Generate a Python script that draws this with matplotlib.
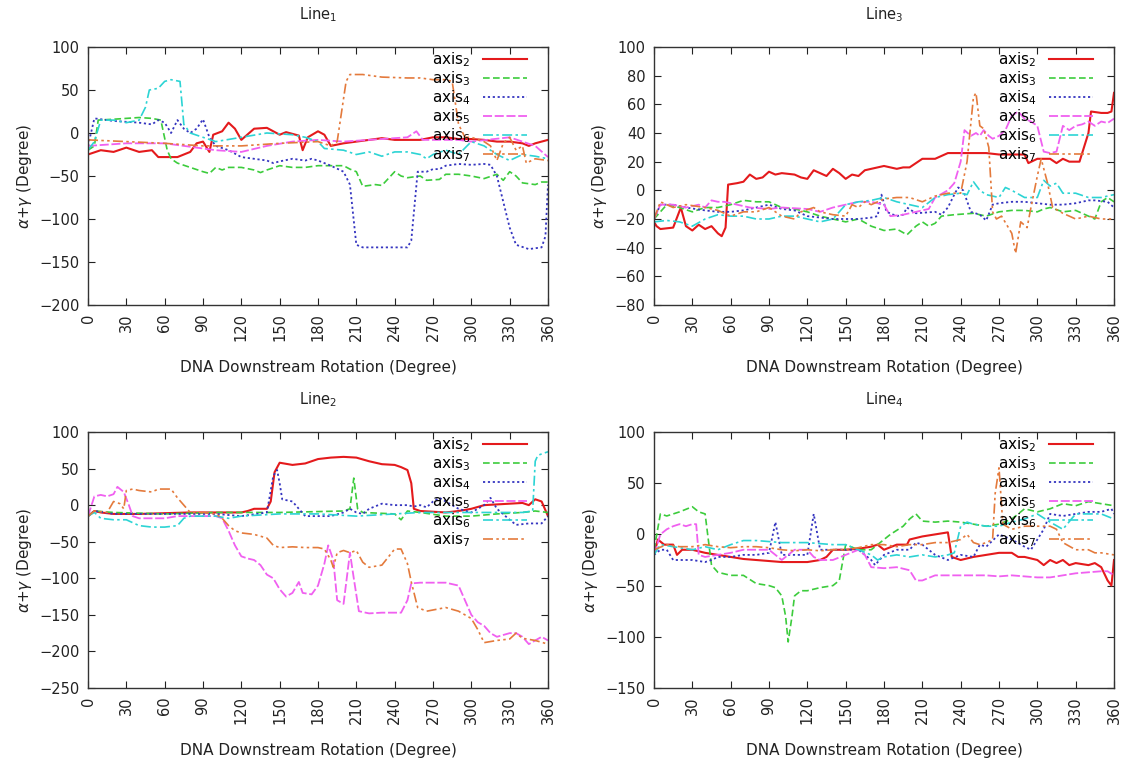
import numpy as np
import matplotlib
matplotlib.use("Agg")
import matplotlib.pyplot as plt

# ---- data: (rotation in degree, alpha+gamma in degree) ----

# Line 1
l1_axis2 = [(0, -25), (10, -20), (20, -22), (30, -17), (40, -22), (50, -20), (55, -28), (70, -28),
            (80, -22), (85, -12), (90, -10), (95, -22), (98, -2), (105, 2), (110, 12), (115, 5),
            (120, -8), (130, 5), (140, 6), (145, 2), (150, -2), (155, 1), (165, -3), (168, -20),
            (172, -5), (180, 2), (185, -2), (190, -15), (200, -12), (210, -10), (220, -8), (230, -6),
            (240, -8), (250, -8), (260, -8), (270, -5), (280, -5), (290, -7), (300, -7), (310, -8),
            (320, -10), (330, -10), (340, -12), (345, -15), (350, -12), (360, -8)]
l1_axis3 = [(0, -20), (5, -15), (8, 15), (20, 16), (30, 17), (40, 18), (50, 17), (57, 15), (62, -20),
            (65, -30), (70, -35), (80, -40), (90, -45), (95, -47), (100, -40), (105, -43), (110, -40),
            (120, -40), (130, -43), (135, -46), (140, -43), (150, -38), (160, -40), (170, -40),
            (180, -38), (190, -38), (200, -38), (205, -42), (210, -45), (215, -62), (225, -60),
            (230, -61), (235, -53), (240, -45), (245, -50), (250, -52), (260, -50), (265, -55),
            (275, -54), (280, -48), (290, -48), (300, -50), (310, -53), (320, -48), (325, -55),
            (330, -45), (335, -50), (340, -58), (350, -60), (355, -57), (360, -57)]
l1_axis4 = [(0, -15), (5, 17), (10, 16), (20, 14), (30, 13), (40, 12), (50, 10), (55, 15), (60, 12),
            (65, 0), (70, 15), (75, 5), (80, 0), (85, 5), (90, 16), (95, -5), (100, -15), (110, -20),
            (120, -28), (130, -30), (140, -32), (145, -35), (150, -33), (160, -30), (170, -32),
            (175, -30), (180, -32), (190, -38), (200, -45), (205, -60), (210, -130), (215, -133),
            (230, -133), (250, -133), (253, -125), (258, -45), (265, -45), (270, -42), (275, -42),
            (280, -38), (290, -36), (300, -37), (310, -36), (315, -37), (320, -50), (325, -80),
            (330, -110), (335, -130), (345, -135), (355, -133), (358, -120), (360, -60)]
l1_axis5 = [(0, -15), (30, -12), (60, -12), (90, -18), (100, -20), (120, -22), (140, -15), (160, -10),
            (180, -8), (200, -10), (250, -5), (257, 2), (262, -8), (290, -8), (300, -10), (330, -5),
            (340, -10), (350, -15), (360, -28)]
l1_axis6 = [(0, -20), (5, -10), (10, 15), (20, 15), (30, 12), (40, 15), (45, 30), (48, 50), (55, 52),
            (60, 60), (65, 62), (72, 60), (75, 10), (80, 0), (90, -5), (100, -10), (120, -5), (140, 0),
            (160, -2), (170, -5), (180, -10), (185, -18), (200, -20), (210, -25), (220, -22),
            (230, -27), (240, -22), (250, -22), (260, -25), (265, -30), (270, -25), (280, -20),
            (290, -25), (300, -10), (310, -15), (320, -25), (330, -32), (340, -25), (350, -27),
            (360, -30)]
l1_axis7 = [(0, -8), (30, -10), (60, -12), (90, -15), (120, -15), (150, -12), (180, -10), (190, -15),
            (195, -10), (198, 20), (202, 60), (205, 68), (215, 68), (230, 65), (250, 64), (260, 64),
            (270, 62), (280, 62), (285, 60), (290, 10), (295, -5), (300, -5), (310, -10), (315, -15),
            (320, -32), (325, -12), (330, -5), (335, -20), (340, -15), (343, -35), (350, -30),
            (360, -32)]

# Line 3
l3_axis2 = [(0, -22), (2, -25), (5, -27), (15, -26), (21, -12), (25, -25), (30, -28), (35, -24),
            (40, -27), (45, -25), (50, -30), (53, -32), (56, -26), (58, 4), (65, 5), (70, 6), (75, 11),
            (80, 8), (85, 9), (90, 13), (95, 11), (100, 12), (110, 11), (115, 9), (120, 8), (125, 14),
            (130, 12), (135, 10), (140, 15), (145, 12), (150, 8), (155, 11), (160, 10), (165, 14),
            (170, 15), (180, 17), (190, 15), (195, 16), (200, 16), (210, 22), (220, 22), (230, 26),
            (240, 26), (250, 26), (260, 26), (270, 25), (280, 25), (290, 25), (293, 19), (300, 22),
            (310, 22), (315, 19), (320, 22), (325, 20), (333, 20), (340, 40), (342, 55), (350, 54),
            (355, 54), (358, 55), (360, 68)]
l3_axis3 = [(0, -20), (10, -10), (20, -12), (30, -15), (40, -12), (50, -12), (60, -10), (70, -7),
            (80, -8), (90, -8), (100, -12), (110, -13), (120, -15), (130, -18), (140, -20), (150, -22),
            (160, -20), (170, -25), (180, -28), (190, -27), (198, -31), (205, -25), (210, -22),
            (215, -25), (220, -23), (225, -18), (235, -17), (250, -16), (260, -18), (270, -15),
            (280, -14), (290, -14), (300, -15), (305, -13), (310, -12), (320, -15), (330, -14),
            (340, -18), (345, -20), (350, -8), (355, -5), (360, -8)]
l3_axis4 = [(0, -20), (5, -10), (15, -10), (25, -12), (40, -14), (50, -15), (60, -15), (70, -14),
            (80, -12), (90, -10), (100, -13), (110, -14), (120, -18), (140, -20), (150, -20),
            (160, -20), (170, -19), (175, -18), (178, -3), (182, -15), (190, -18), (195, -17),
            (198, -12), (205, -16), (220, -15), (225, -17), (230, -12), (235, -3), (238, 2), (242, 0),
            (248, -15), (255, -17), (260, -21), (265, -10), (270, -9), (280, -8), (290, -8), (300, -9),
            (310, -10), (320, -10), (330, -9), (340, -7), (345, -7), (355, -8), (360, -12)]
l3_axis5 = [(0, -20), (5, -10), (15, -10), (25, -12), (35, -10), (40, -12), (45, -7), (50, -8),
            (55, -8), (65, -10), (75, -12), (90, -13), (100, -12), (120, -13), (130, -15), (140, -12),
            (150, -10), (160, -8), (170, -8), (180, -10), (185, -18), (195, -17), (205, -15),
            (215, -13), (220, -5), (230, 0), (235, 5), (240, 20), (243, 42), (248, 38), (252, 40),
            (255, 38), (258, 42), (262, 38), (265, 36), (270, 38), (275, 42), (280, 52), (285, 55),
            (290, 50), (295, 48), (300, 45), (305, 27), (310, 26), (315, 27), (320, 45), (325, 42),
            (330, 45), (335, 46), (340, 48), (345, 45), (350, 48), (355, 47), (360, 50)]
l3_axis6 = [(0, -22), (10, -21), (20, -22), (30, -25), (40, -20), (50, -17), (60, -18), (70, -18),
            (80, -20), (90, -20), (100, -18), (110, -18), (120, -20), (130, -22), (140, -20),
            (150, -10), (160, -8), (170, -7), (180, -5), (190, -8), (200, -10), (210, -12), (220, -5),
            (230, -3), (240, -2), (245, -3), (250, 6), (255, 0), (260, -3), (270, -5), (275, 2),
            (280, 0), (290, -5), (300, -5), (305, 7), (310, 3), (315, 5), (320, -2), (330, -2),
            (340, -5), (350, -5), (360, -3)]
l3_axis7 = [(0, -20), (5, -8), (15, -12), (25, -10), (40, -12), (50, -14), (60, -18), (70, -15),
            (80, -15), (90, -12), (100, -18), (110, -20), (115, -15), (125, -12), (130, -15),
            (140, -17), (150, -18), (155, -10), (160, -12), (165, -8), (170, -10), (180, -6),
            (190, -5), (200, -5), (210, -8), (220, -4), (230, -2), (240, -2), (245, 20), (250, 65),
            (252, 68), (255, 45), (258, 43), (262, 30), (265, -15), (268, -20), (272, -18), (280, -30),
            (283, -44), (287, -22), (292, -26), (295, -12), (300, 10), (303, 22), (308, 5), (312, -12),
            (320, -16), (330, -20), (340, -18), (350, -20), (360, -20)]

# Line 2
l2_axis2 = [(0, -15), (5, -8), (10, -10), (20, -12), (40, -12), (60, -11), (80, -10), (90, -10),
            (100, -10), (120, -10), (125, -8), (130, -5), (140, -5), (143, 5), (146, 45), (150, 58),
            (160, 55), (170, 57), (175, 60), (180, 63), (190, 65), (200, 66), (210, 65), (220, 60),
            (230, 56), (240, 55), (245, 52), (250, 48), (253, 30), (255, -5), (260, -8), (270, -9),
            (280, -10), (290, -8), (300, -5), (310, 0), (320, 1), (330, 2), (340, 3), (345, 0),
            (350, 8), (355, 5), (360, -15)]
l2_axis3 = [(0, -15), (5, -8), (20, -10), (60, -12), (100, -10), (150, -10), (200, -8), (205, -5),
            (208, 37), (211, -5), (215, -10), (240, -12), (245, -20), (250, -8), (260, -10), (280, -15),
            (290, -15), (300, -15), (320, -12), (340, -10), (350, -8), (360, -10)]
l2_axis4 = [(0, -15), (5, -8), (20, -12), (40, -12), (60, -12), (80, -12), (100, -12), (120, -15),
            (140, -10), (145, 40), (148, 48), (150, 30), (152, 8), (160, 5), (165, -5), (170, -15),
            (180, -15), (190, -15), (200, -10), (205, -5), (210, -10), (215, -12), (220, -5), (230, 2),
            (240, 0), (250, 0), (255, -2), (260, 0), (265, -3), (270, 5), (275, 10), (280, 5),
            (290, -5), (300, -10), (310, 0), (315, 10), (320, -5), (330, -20), (335, -27), (345, -25),
            (355, -25), (360, -15)]
l2_axis5 = [(0, -15), (5, 12), (10, 14), (15, 12), (20, 15), (23, 25), (28, 18), (32, 0), (35, -15),
            (40, -18), (60, -18), (70, -15), (90, -15), (100, -15), (105, -18), (110, -35), (115, -55),
            (120, -70), (125, -73), (130, -75), (135, -82), (140, -95), (145, -100), (150, -115),
            (155, -125), (160, -120), (165, -105), (168, -120), (175, -122), (180, -110), (185, -80),
            (188, -55), (192, -75), (195, -130), (200, -135), (205, -65), (208, -100), (212, -145),
            (220, -148), (230, -147), (245, -147), (250, -130), (253, -107), (260, -106), (280, -106),
            (290, -110), (300, -150), (305, -160), (310, -165), (315, -175), (320, -180), (330, -175),
            (335, -175), (340, -180), (345, -190), (350, -185), (355, -180), (360, -185)]
l2_axis6 = [(0, -15), (5, -10), (10, -18), (20, -20), (30, -20), (40, -28), (50, -30), (60, -30),
            (70, -28), (75, -18), (80, -15), (90, -15), (100, -15), (110, -18), (120, -15), (150, -12),
            (180, -12), (210, -15), (240, -12), (260, -10), (280, -10), (300, -10), (340, -10),
            (348, -8), (350, 60), (352, 68), (355, 70), (360, 73)]
l2_axis7 = [(0, -15), (5, -8), (15, -10), (20, 5), (25, 2), (28, -5), (30, 20), (35, 22), (40, 20),
            (50, 18), (55, 22), (65, 22), (70, 10), (80, -10), (90, -10), (100, -12), (105, -18),
            (110, -28), (115, -35), (120, -38), (130, -40), (140, -45), (145, -55), (150, -58),
            (160, -57), (170, -58), (180, -58), (185, -60), (190, -75), (192, -85), (195, -65),
            (200, -62), (205, -65), (210, -62), (215, -78), (220, -85), (230, -82), (240, -60),
            (245, -60), (250, -80), (253, -105), (258, -140), (265, -145), (280, -140), (290, -145),
            (300, -155), (305, -170), (310, -188), (320, -185), (330, -183), (335, -175), (340, -182),
            (350, -185), (360, -190)]

# Line 4
l4_axis2 = [(0, -20), (3, -5), (8, -10), (15, -10), (18, -20), (22, -15), (30, -15), (40, -18),
            (50, -20), (60, -22), (70, -24), (80, -25), (90, -26), (100, -27), (110, -27), (120, -27),
            (130, -25), (135, -22), (140, -15), (150, -15), (160, -14), (170, -12), (175, -10),
            (180, -15), (190, -10), (198, -10), (200, -5), (210, -2), (220, 0), (230, 2), (233, -22),
            (240, -25), (250, -22), (260, -20), (270, -18), (280, -18), (285, -22), (290, -22),
            (300, -25), (305, -30), (310, -25), (315, -28), (320, -25), (325, -30), (330, -28),
            (340, -30), (345, -28), (350, -32), (355, -45), (358, -50), (360, -25)]
l4_axis3 = [(0, -15), (5, 20), (10, 18), (15, 20), (20, 22), (30, 27), (35, 22), (40, 20), (45, -30),
            (50, -37), (60, -40), (70, -40), (80, -48), (90, -50), (95, -52), (100, -60), (103, -80),
            (105, -105), (108, -80), (110, -60), (115, -55), (120, -55), (130, -52), (140, -50),
            (145, -45), (150, -10), (160, -15), (170, -15), (180, -5), (185, 0), (195, 8), (200, 15),
            (205, 20), (210, 13), (220, 12), (230, 13), (240, 12), (250, 10), (260, 8), (270, 10),
            (280, 15), (290, 25), (300, 22), (310, 25), (320, 30), (330, 28), (340, 32), (350, 30),
            (360, 28)]
l4_axis4 = [(0, -20), (5, -15), (10, -15), (15, -25), (20, -25), (30, -25), (40, -27), (45, -25),
            (50, -22), (60, -22), (70, -20), (80, -20), (90, -18), (95, 12), (100, -20), (110, -20),
            (120, -20), (125, 20), (130, -15), (140, -15), (150, -15), (160, -15), (170, -25),
            (173, -30), (180, -20), (190, -15), (200, -15), (205, -8), (210, -10), (220, -20),
            (230, -25), (240, -20), (250, -22), (255, -10), (260, -12), (270, 0), (280, -5), (290, -12),
            (295, -15), (300, -5), (305, 5), (310, 20), (320, 18), (330, 20), (340, 22), (350, 22),
            (358, 25), (360, 20)]
l4_axis5 = [(0, -20), (5, 0), (10, 5), (15, 8), (20, 10), (25, 8), (30, 10), (33, 10), (35, -20),
            (40, -22), (50, -20), (60, -18), (70, -15), (80, -15), (90, -15), (100, -25), (110, -15),
            (120, -15), (125, -22), (130, -25), (140, -25), (150, -20), (160, -15), (165, -20),
            (170, -32), (180, -33), (190, -32), (200, -35), (205, -45), (210, -45), (220, -40),
            (230, -40), (240, -40), (260, -40), (270, -41), (280, -40), (300, -42), (310, -42),
            (320, -40), (330, -38), (340, -37), (350, -36), (355, -36), (360, -40)]
l4_axis6 = [(0, -20), (5, -10), (15, -12), (30, -15), (40, -12), (50, -15), (60, -10), (70, -6),
            (80, -6), (90, -7), (100, -8), (120, -8), (130, -9), (140, -10), (150, -10), (160, -15),
            (170, -20), (175, -25), (180, -22), (190, -20), (200, -22), (210, -20), (220, -22),
            (230, -20), (235, -18), (240, 8), (245, 12), (250, 10), (260, 8), (270, 8), (280, 12),
            (290, 15), (300, 20), (310, 12), (320, 5), (330, 20), (340, 20), (350, 20), (360, 15)]
l4_axis7 = [(0, -15), (10, -10), (20, -12), (30, -12), (40, -10), (50, -12), (60, -13), (70, -12),
            (80, -12), (90, -13), (100, -15), (110, -16), (120, -15), (130, -16), (140, -15),
            (150, -15), (160, -13), (170, -10), (180, -10), (190, -12), (200, -10), (210, -10),
            (220, -8), (230, -8), (240, -5), (245, 0), (250, -8), (255, -10), (260, -8), (265, -5),
            (267, 40), (270, 65), (273, 10), (280, 5), (290, 8), (300, 8), (310, 8), (315, 5),
            (320, -8), (330, -15), (340, -15), (345, -18), (350, -18), (360, -20)]

panel_titles = ["Line$_1$", "Line$_3$", "Line$_2$", "Line$_4$"]
series_names = ["axis$_2$", "axis$_3$", "axis$_4$", "axis$_5$", "axis$_6$", "axis$_7$"]
panel_data = [
    [l1_axis2, l1_axis3, l1_axis4, l1_axis5, l1_axis6, l1_axis7],
    [l3_axis2, l3_axis3, l3_axis4, l3_axis5, l3_axis6, l3_axis7],
    [l2_axis2, l2_axis3, l2_axis4, l2_axis5, l2_axis6, l2_axis7],
    [l4_axis2, l4_axis3, l4_axis4, l4_axis5, l4_axis6, l4_axis7],
]
y_limits = [(-200, 100), (-80, 100), (-250, 100), (-150, 100)]
y_steps = [50, 20, 50, 50]

# gnuplot-like colours and dash patterns
colors = ["#e41a1c", "#3ccc3c", "#3535c0", "#f060f0", "#2cd4d4", "#e47a3c"]
dashes = ["-", (0, (4, 2)), (0, (1.2, 1.5)), (0, (5, 1.5)), (0, (6, 2, 1.5, 2)),
          (0, (6, 2, 1.5, 2, 1.5, 2))]
widths = [1.5, 1.2, 1.3, 1.3, 1.2, 1.2]

# axes boxes in pixels: left, top, right, bottom
W, H = 1123, 765
boxes = [(88, 47, 548, 305), (654, 47, 1114, 305), (88, 432, 548, 688), (654, 432, 1114, 688)]

fig = plt.figure(figsize=(W / 100, H / 100), dpi=100)
txt = "#222222"

for i, (l, t, r, b) in enumerate(boxes):
    ax = fig.add_axes([l / W, 1 - b / H, (r - l) / W, (b - t) / H])
    for j, series in enumerate(panel_data[i]):
        xs, ys = zip(*series)
        ax.plot(xs, ys, color=colors[j], linestyle=dashes[j], lw=widths[j],
                label=series_names[j])
    lo, hi = y_limits[i]
    ax.set_xlim(0, 360)
    ax.set_ylim(lo, hi)
    ax.set_xticks(np.arange(0, 361, 30))
    ax.set_yticks(np.arange(lo, hi + 1, y_steps[i]))
    ax.tick_params(direction="in", top=True, right=True, length=5, width=0.8,
                   labelsize=10.5, colors=txt, pad=6)
    ax.tick_params(axis="x", labelrotation=90)
    for sp in ax.spines.values():
        sp.set_color("#333333")
        sp.set_linewidth(1.0)
    ax.set_title(panel_titles[i], fontsize=10.5, color=txt, pad=20)
    ax.set_xlabel("DNA Downstream Rotation (Degree)", fontsize=11, color=txt, labelpad=13)
    ax.set_ylabel(r"$\alpha$+$\gamma$ (Degree)", fontsize=11, color=txt, labelpad=4)
    ax.legend(loc="upper right", bbox_to_anchor=(1 - 18 / (r - l), 1.0),
              markerfirst=False, frameon=False, fontsize=11,
              handlelength=2.9, labelspacing=0.02, borderaxespad=0.0, handletextpad=0.8,
              borderpad=0.2)

fig.savefig("out.png", dpi=100)
